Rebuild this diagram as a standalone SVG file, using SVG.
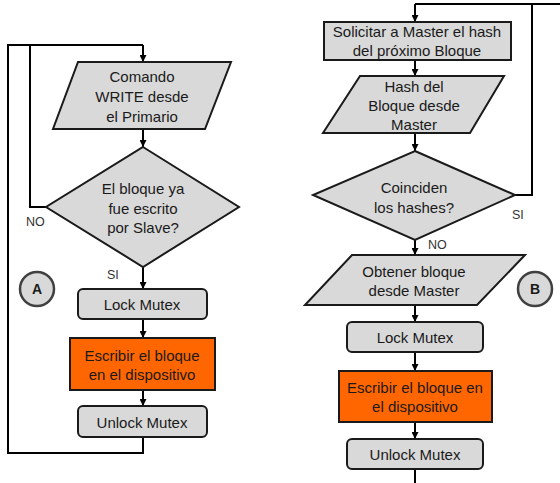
<svg xmlns="http://www.w3.org/2000/svg" width="560" height="483" viewBox="0 0 560 483">
  <defs>
    <marker id="arrow" viewBox="0 0 8 8" refX="8" refY="4" markerWidth="7" markerHeight="7" markerUnits="userSpaceOnUse" orient="auto">
      <path d="M0,0 L8,4 L0,8 Z" fill="#000"/>
    </marker>
    <style>
      .shape { fill: #d9d9d9; stroke: #1a1a1a; stroke-width: 2; }
      .hot { fill: #ff6600; stroke: #1a1a1a; stroke-width: 2; }
      .conn { fill: none; stroke: #000; stroke-width: 2; }
      .conn-a { fill: none; stroke: #000; stroke-width: 2; marker-end: url(#arrow); }
      .label { font-family: "Liberation Sans", Arial, sans-serif; font-size: 15px; fill: #1a1a1a; text-anchor: middle; dominant-baseline: central; }
      .edge { font-family: "Liberation Sans", Arial, sans-serif; font-size: 12.5px; fill: #333; dominant-baseline: central; }
      .conn-circle { fill: #d9d9d9; stroke: #404040; stroke-width: 2.5; }
      .letter { font-family: "Liberation Sans", Arial, sans-serif; font-size: 14px; font-weight: bold; fill: #1a1a1a; text-anchor: middle; dominant-baseline: central; }
    </style>
  </defs>

  <!-- connectors -->
  <g id="connectors">
    <!-- flow A -->
    <path class="conn" d="M143,437 V453 H8 V45 H143"/>
    <path class="conn-a" d="M143,45 V62"/>
    <path class="conn" d="M46,207 H30 V45"/>
    <path class="conn-a" d="M143,129 V147"/>
    <path class="conn-a" d="M143,267 V289"/>
    <path class="conn-a" d="M143,319 V338"/>
    <path class="conn-a" d="M143,390 V406"/>
    <!-- flow B -->
    <path class="conn" d="M515,195 H532 V4"/>
    <path class="conn" d="M560,4 H415"/>
    <path class="conn-a" d="M415,4 V22"/>
    <path class="conn-a" d="M415,60 V76"/>
    <path class="conn-a" d="M415,133 V151"/>
    <path class="conn-a" d="M415,240 V255"/>
    <path class="conn-a" d="M415,305 V322"/>
    <path class="conn-a" d="M415,352 V371"/>
    <path class="conn-a" d="M415,422 V439"/>
    <path class="conn" d="M415,469 V483"/>
    <text class="edge" x="26" y="222">NO</text>
    <text class="edge" x="107" y="275">SI</text>
    <text class="edge" x="512" y="215">SI</text>
    <text class="edge" x="428" y="245">NO</text>
  </g>

  <!-- flow A nodes -->
  <g id="a-write-cmd">
    <polygon class="shape" points="78,62 231,62 205,129 53,129"/>
    <text class="label" x="142" y="76">Comando</text>
    <text class="label" x="142" y="96">WRITE desde</text>
    <text class="label" x="142" y="116">el Primario</text>
  </g>
  <g id="a-already-written">
    <polygon class="shape" points="143,147 239,207 143,267 46,207"/>
    <text class="label" x="143" y="188">El bloque ya</text>
    <text class="label" x="143" y="208">fue escrito</text>
    <text class="label" x="143" y="227">por Slave?</text>
  </g>
  <g id="a-lock">
    <rect class="shape" x="78" y="289" width="129" height="30" rx="5"/>
    <text class="label" x="142" y="304">Lock Mutex</text>
  </g>
  <g id="a-write-block">
    <rect class="hot" x="70" y="338" width="145" height="52"/>
    <text class="label" x="142" y="355">Escribir el bloque</text>
    <text class="label" x="142" y="374">en el dispositivo</text>
  </g>
  <g id="a-unlock">
    <rect class="shape" x="78" y="406" width="129" height="31" rx="5"/>
    <text class="label" x="142" y="422">Unlock Mutex</text>
  </g>
  <g id="a-tag">
    <circle class="conn-circle" cx="37" cy="289" r="17"/>
    <text class="letter" x="37" y="289">A</text>
  </g>

  <!-- flow B nodes -->
  <g id="b-request-hash">
    <rect class="shape" x="324" y="22" width="187" height="38"/>
    <text class="label" x="417" y="31">Solicitar a Master el hash</text>
    <text class="label" x="417" y="50">del próximo Bloque</text>
  </g>
  <g id="b-hash-in">
    <polygon class="shape" points="360,76 504,76 470,133 323,133"/>
    <text class="label" x="414" y="86">Hash del</text>
    <text class="label" x="414" y="105">Bloque desde</text>
    <text class="label" x="414" y="124">Master</text>
  </g>
  <g id="b-hashes-match">
    <polygon class="shape" points="415,151 515,195 415,240 313,195"/>
    <text class="label" x="414" y="187">Coinciden</text>
    <text class="label" x="414" y="207">los hashes?</text>
  </g>
  <g id="b-get-block">
    <polygon class="shape" points="352,255 525,255 477,305 305,305"/>
    <text class="label" x="414" y="271">Obtener bloque</text>
    <text class="label" x="414" y="290">desde Master</text>
  </g>
  <g id="b-lock">
    <rect class="shape" x="347" y="322" width="136" height="30" rx="5"/>
    <text class="label" x="415" y="337">Lock Mutex</text>
  </g>
  <g id="b-write-block">
    <rect class="hot" x="339" y="371" width="153" height="51"/>
    <text class="label" x="415" y="387">Escribir el bloque en</text>
    <text class="label" x="415" y="406">el dispositivo</text>
  </g>
  <g id="b-unlock">
    <rect class="shape" x="347" y="439" width="136" height="30" rx="5"/>
    <text class="label" x="415" y="454">Unlock Mutex</text>
  </g>
  <g id="b-tag">
    <circle class="conn-circle" cx="535" cy="289" r="17"/>
    <text class="letter" x="535" y="289">B</text>
  </g>
</svg>
